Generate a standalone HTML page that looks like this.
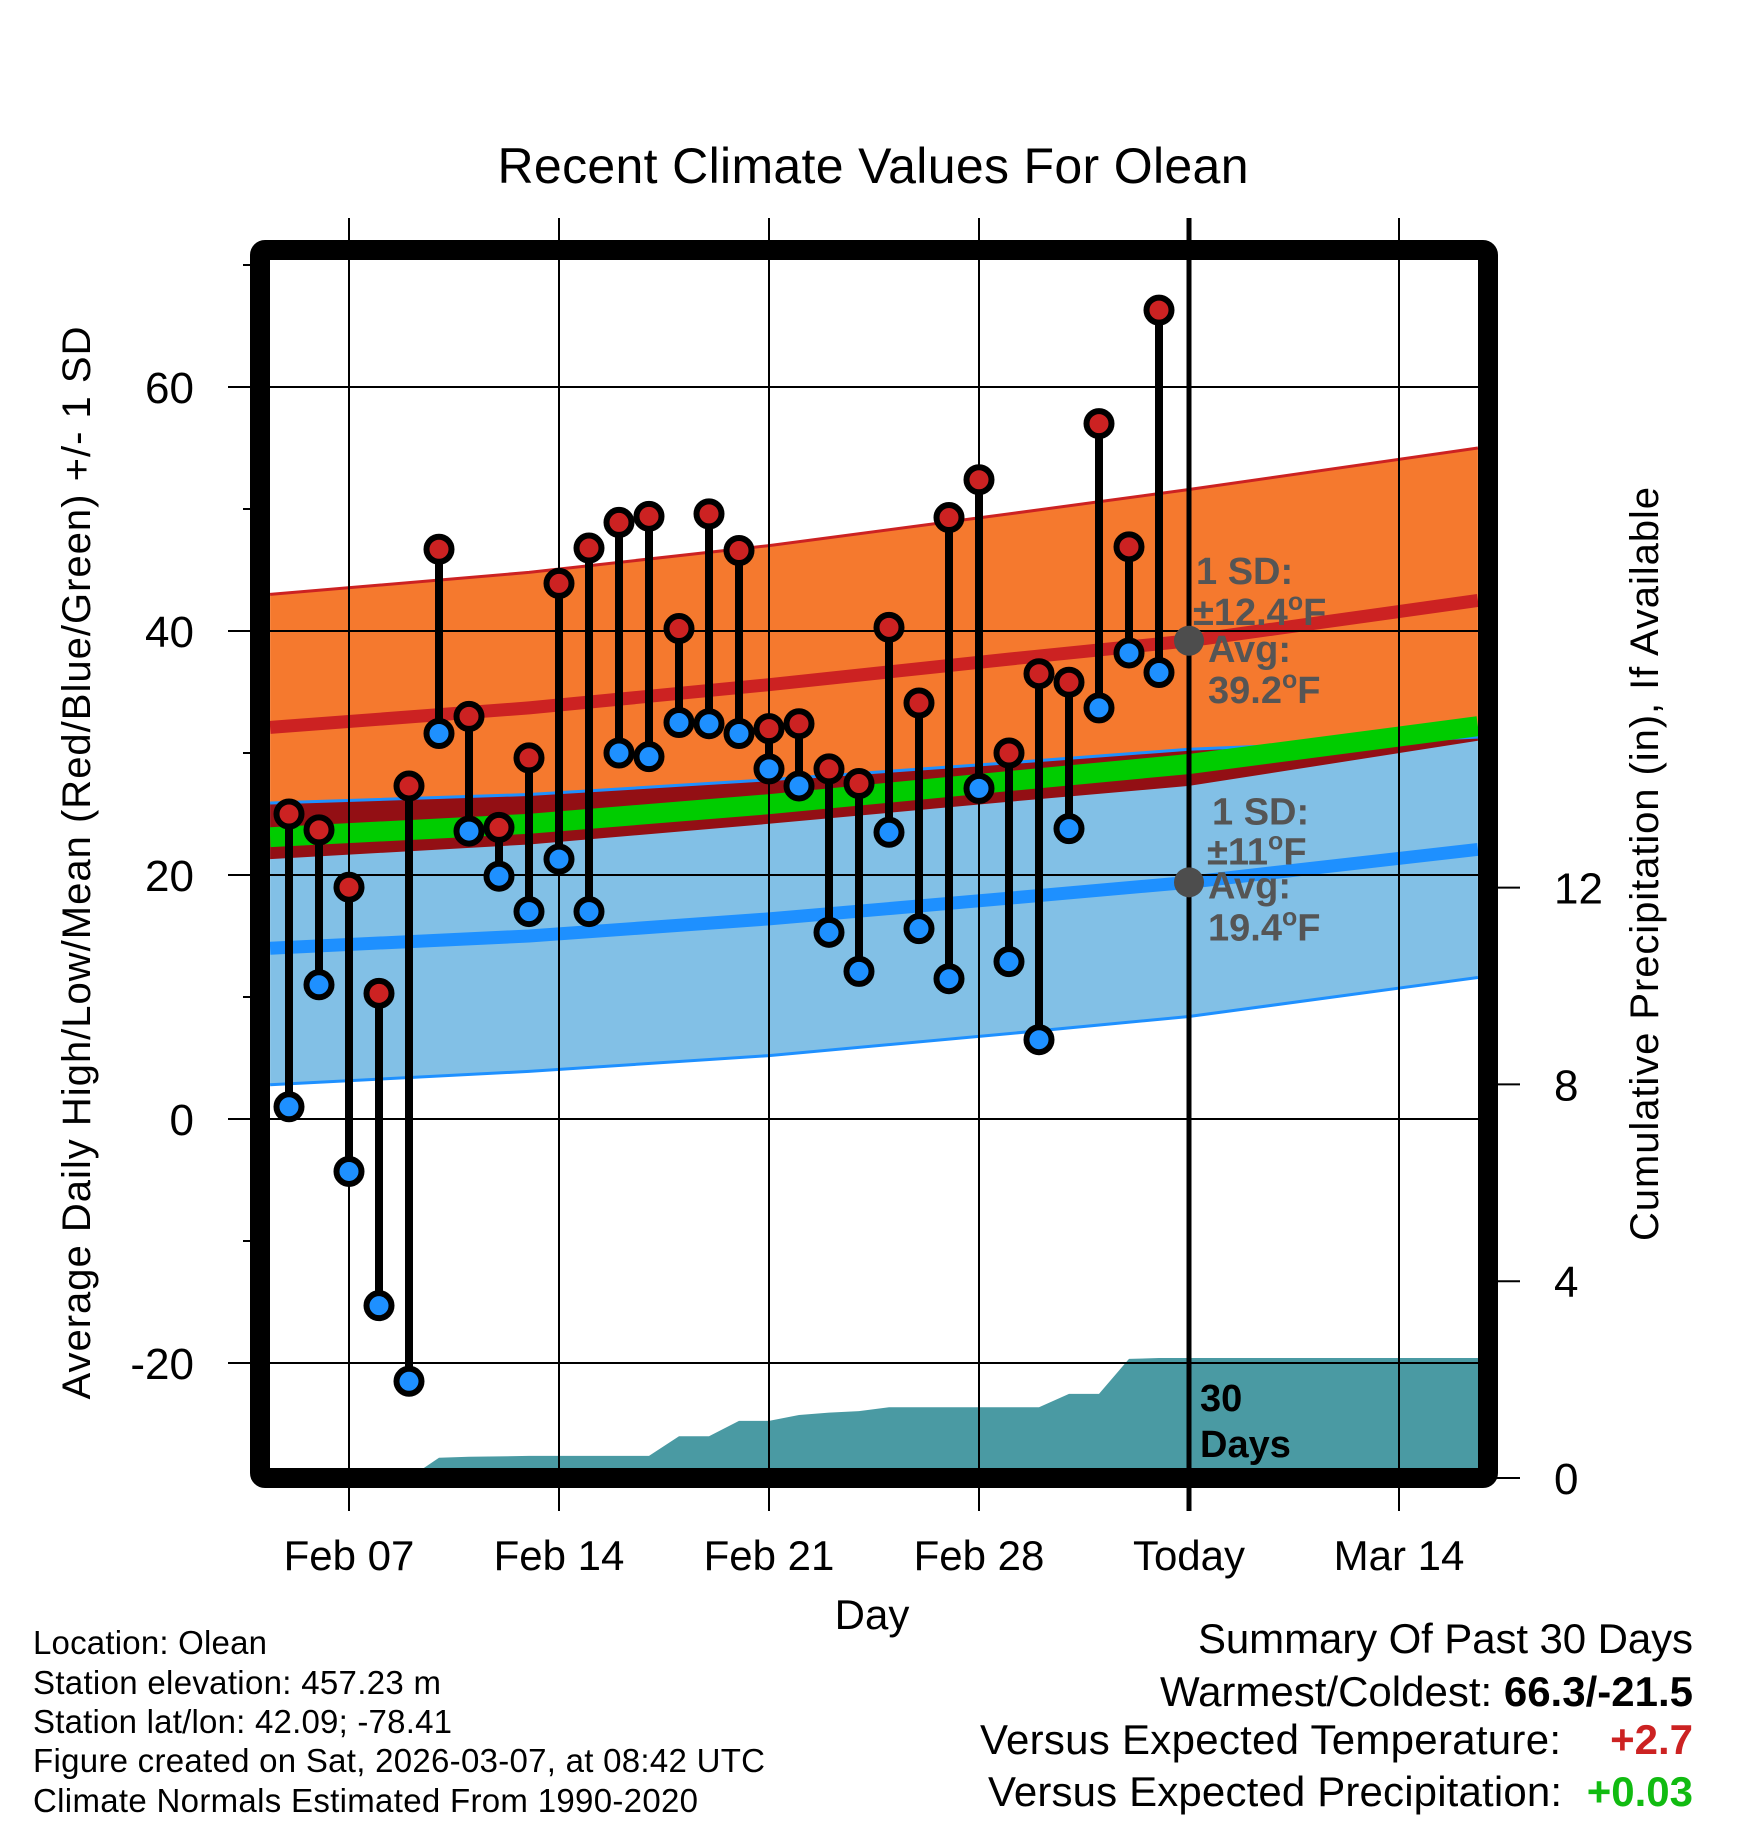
<!DOCTYPE html>
<html><head><meta charset="utf-8"><style>
html,body{margin:0;padding:0;background:#fff}
svg{display:block}
text{font-family:"Liberation Sans",Arial,sans-serif}
</style></head><body>
<svg id="chart" xmlns="http://www.w3.org/2000/svg" width="1748" height="1828" viewBox="0 0 1748 1828">
<defs><clipPath id="plotclip"><rect x="270" y="260" width="1208" height="1208"/></clipPath></defs>
<rect x="0" y="0" width="1748" height="1828" fill="#fff"/>
<text x="873" y="183" font-size="50" text-anchor="middle" textLength="751">Recent Climate Values For Olean</text>
<g id="bands" clip-path="url(#plotclip)"></g>
<g id="precip" clip-path="url(#plotclip)"></g>
<g id="grid"></g>
<g id="marks"></g>
<g id="annot"></g>
<rect x="260" y="250" width="1228" height="1228" rx="5" fill="none" stroke="#000" stroke-width="20"/>
<g id="axes"></g>
<text transform="translate(90,863) rotate(-90)" font-size="40" text-anchor="middle" textLength="1073">Average Daily High/Low/Mean (Red/Blue/Green) +/- 1 SD</text>
<text transform="translate(1658,864) rotate(-90)" font-size="40" text-anchor="middle" textLength="754">Cumulative Precipitation (in), If Available</text>
<text x="872" y="1629" font-size="42" text-anchor="middle">Day</text>
<g font-size="33">
<text x="33" y="1654" textLength="234">Location: Olean</text>
<text x="33" y="1694" textLength="408">Station elevation: 457.23 m</text>
<text x="33" y="1733" textLength="419">Station lat/lon: 42.09; -78.41</text>
<text x="33" y="1772" textLength="732">Figure created on Sat, 2026-03-07, at 08:42 UTC</text>
<text x="33" y="1812" textLength="665">Climate Normals Estimated From 1990-2020</text>
</g>
<g font-size="42">
<text x="1198" y="1653" textLength="495">Summary Of Past 30 Days</text>
<text x="1693" y="1706" text-anchor="end">Warmest/Coldest: <tspan font-weight="bold">66.3/-21.5</tspan></text>
<text x="980" y="1754" textLength="581">Versus Expected Temperature:</text>
<text x="1693" y="1754" text-anchor="end" font-weight="bold" fill="#cc2222">+2.7</text>
<text x="988" y="1806" textLength="574">Versus Expected Precipitation:</text>
<text x="1693" y="1806" text-anchor="end" font-weight="bold" fill="#11bb11">+0.03</text>
</g>
</svg>
<script>
// ---- data ----
const dayLabels = ["Feb 5","Feb 6","Feb 7","Feb 8","Feb 9","Feb 10","Feb 11","Feb 12","Feb 13","Feb 14","Feb 15","Feb 16","Feb 17","Feb 18","Feb 19","Feb 20","Feb 21","Feb 22","Feb 23","Feb 24","Feb 25","Feb 26","Feb 27","Feb 28","Mar 1","Mar 2","Mar 3","Mar 4","Mar 5","Mar 6"];
const highs = [25,23.7,19,10.3,27.3,46.7,33,23.9,29.6,43.9,46.8,48.9,49.4,40.2,49.6,46.6,32,32.4,28.7,27.5,40.3,34.1,49.3,52.4,30,36.5,35.8,57,46.9,66.3];
const lows = [1,11,-4.3,-15.3,-21.5,31.6,23.6,19.9,17,21.3,17,30,29.7,32.5,32.4,31.6,28.7,27.3,15.3,12.1,23.5,15.6,11.5,27.1,12.9,6.5,23.8,33.7,38.2,36.6];
const precipCum = [0,0,0,0,0,0.41,0.43,0.44,0.45,0.45,0.45,0.45,0.45,0.85,0.85,1.16,1.16,1.28,1.33,1.36,1.44,1.44,1.44,1.44,1.44,1.44,1.71,1.71,2.42,2.44];
const precipFinal = 2.44;
const normDays = [-0.63,8,16,24,30,39.63];
const highAvg = [32.1,33.7,35.6,37.7,39.2,42.5];
const highPlus = [43.0,44.8,47.0,49.6,51.6,55.0];
const highMinus = [21.3,22.5,24.2,26.0,27.3,31.0];
const lowPlus = [25.9,26.6,27.8,29.2,30.3,31.3];
const meanTemp = [23.1,24.2,25.8,27.7,29.1,32.2];
const lowAvg = [14.0,15.0,16.4,18.1,19.4,22.1];
const lowMinus = [2.8,3.9,5.2,7.0,8.4,11.6];
const xTickDays = [2,9,16,23,30,37];
const xTickLabels = ["Feb 07","Feb 14","Feb 21","Feb 28","Today","Mar 14"];
const yTicks = [60,40,20,0,-20];
const yMinor = [70,50,30,10,-10];
const y2Ticks = [0,4,8,12];
const todayDay = 30;
const todayHigh = 39.2, todayHighSD = "12.4", todayLow = 19.4, todayLowSD = "11";

// ---- axes functions ----
const X = d => 289 + 30*d;
const Y = t => 1119 - 12.2*t;
const P = p => 1478 - 49.2*p;
const NS = "http://www.w3.org/2000/svg";
function mk(tag, attrs, parent){const e=document.createElementNS(NS,tag);for(const k in attrs)e.setAttribute(k,attrs[k]);parent.appendChild(e);return e;}
const ptsOf = arr => normDays.map((d,i)=>X(d).toFixed(1)+","+Y(arr[i]).toFixed(1));
const bandPts = (top,bot) => ptsOf(top).concat(ptsOf(bot).reverse()).join(" ");

const bands = document.getElementById("bands");
let e;
e = mk("polygon",{points:bandPts(highPlus,highMinus),fill:"#f5792e"},bands);


e = mk("polygon",{points:bandPts(lowPlus,lowMinus),fill:"#82c0e6"},bands);


e = mk("polygon",{points:bandPts(lowPlus,highMinus),fill:"#930f14"},bands);


e = mk("polyline",{points:ptsOf(lowPlus).join(" "),fill:"none",stroke:"#1e90ff","stroke-width":3},bands);


e = mk("polyline",{points:ptsOf(meanTemp).join(" "),fill:"none",stroke:"#00cc00","stroke-width":20},bands);


e = mk("polyline",{points:ptsOf(highAvg).join(" "),fill:"none",stroke:"#cc2222","stroke-width":13},bands);


e = mk("polyline",{points:ptsOf(highPlus).join(" "),fill:"none",stroke:"#cc2222","stroke-width":3},bands);


e = mk("polyline",{points:ptsOf(lowAvg).join(" "),fill:"none",stroke:"#1e90ff","stroke-width":13},bands);


e = mk("polyline",{points:ptsOf(lowMinus).join(" "),fill:"none",stroke:"#1e90ff","stroke-width":3},bands);



// precipitation
const pg = document.getElementById("precip");
let pp = precipCum.map((p,i)=>X(i)+","+P(p).toFixed(1));
pp.push("1480,"+P(precipFinal).toFixed(1)); pp.push("1480,1480"); pp.push(X(0)+",1480");
e = mk("polygon",{points:pp.join(" "),fill:"#4a9aa3"},pg);



// grid
const grid = document.getElementById("grid");
xTickDays.forEach((d,i)=>{
  const isToday = d===todayDay;
  e = mk("line",{x1:X(d),x2:X(d),y1:218,y2:1511,stroke:"#000","stroke-width":isToday?5:2},grid);
  
  
});
yTicks.forEach(t=>{
  e = mk("line",{x1:270,x2:1478,y1:Y(t),y2:Y(t),stroke:"#000","stroke-width":2},grid);
  
  
});

// marks
const marks = document.getElementById("marks");
highs.forEach((h,i)=>{
  const g = mk("g",{},marks);
  
  
  mk("line",{x1:X(i),x2:X(i),y1:Y(h),y2:Y(lows[i]),stroke:"#000","stroke-width":8},g);
  const ch = mk("circle",{cx:X(i),cy:Y(h),r:12.5,fill:"#cc2222",stroke:"#000","stroke-width":6},g);
  
  
  const cl = mk("circle",{cx:X(i),cy:Y(lows[i]),r:12.5,fill:"#1e90ff",stroke:"#000","stroke-width":6},g);
  
  
});

// annotations
const an = document.getElementById("annot");
function deg(parent,x,y,num){
  const t = mk("text",{x:x,y:y,"font-size":38,"font-weight":"bold",fill:"#555"},parent);
  t.innerHTML = num+'<tspan font-size="25" dy="-15">o</tspan><tspan dy="15">F</tspan>';
  return t;
}
function lbl(x,y,s){const t=mk("text",{x:x,y:y,"font-size":38,"font-weight":"bold",fill:"#555"},an);t.textContent=s;return t;}
e = mk("circle",{cx:X(todayDay),cy:Y(todayHigh),r:15,fill:"#4d4d4d"},an);


e = mk("circle",{cx:X(todayDay),cy:Y(todayLow),r:15,fill:"#4d4d4d"},an);


const hy = Y(todayHigh), ly = Y(todayLow);
e = lbl(1196,hy-57,"1 SD:");


e = deg(an,1193,hy-16,"±"+todayHighSD);


e = lbl(1208,hy+21,"Avg:");


e = deg(an,1208,hy+62,todayHigh.toFixed(1));


e = lbl(1212,ly-58,"1 SD:");


e = deg(an,1207,ly-18,"±"+todayLowSD);


e = lbl(1208,ly+16,"Avg:");


e = deg(an,1208,ly+58,todayLow.toFixed(1));


e = mk("text",{x:1200,y:1411,"font-size":38,"font-weight":"bold"},an); e.textContent="30";


e = mk("text",{x:1200,y:1457,"font-size":38,"font-weight":"bold"},an); e.textContent="Days";



// axes
const ax = document.getElementById("axes");
xTickDays.forEach((d,i)=>{
  const t = mk("text",{x:X(d),y:1570,"font-size":42,"text-anchor":"middle"},ax);
  t.textContent = xTickLabels[i];
  
  
});
yTicks.forEach(v=>{
  mk("line",{x1:228,x2:252,y1:Y(v),y2:Y(v),stroke:"#000","stroke-width":2},ax);
  const t = mk("text",{x:194,y:Y(v)+16,"font-size":44,"text-anchor":"end"},ax);
  t.textContent = v;
  
  
});
yMinor.forEach(v=>{
  e = mk("line",{x1:243,x2:252,y1:Y(v),y2:Y(v),stroke:"#000","stroke-width":2},ax);
  
  
});
y2Ticks.forEach(v=>{
  mk("line",{x1:1496,x2:1520,y1:P(v),y2:P(v),stroke:"#000","stroke-width":2},ax);
  const t = mk("text",{x:1554,y:P(v)+16,"font-size":44},ax);
  t.textContent = v;
  
  
});
</script>
</body></html>
